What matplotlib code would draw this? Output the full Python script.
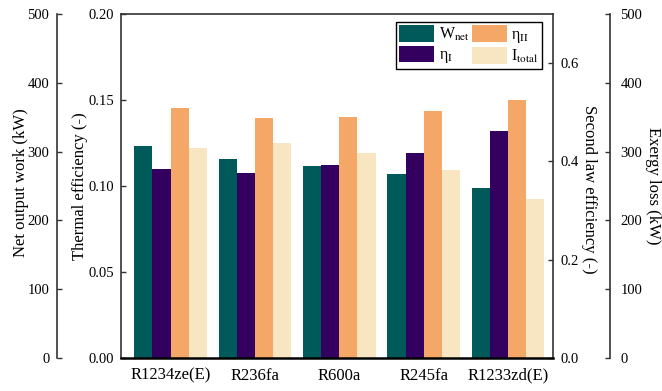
import matplotlib
matplotlib.use("Agg")
import matplotlib.pyplot as plt
import numpy as np

plt.rcParams['font.family'] = ['Liberation Serif', 'DejaVu Serif']
plt.rcParams['mathtext.fontset'] = 'stix'

fluids = ["R1234ze(E)", "R236fa", "R600a", "R245fa", "R1233zd(E)"]
w_net = [307.6, 289.7, 279.0, 268.0, 246.5]          # kW
eta_1 = [0.1101, 0.1077, 0.1122, 0.1192, 0.1322]     # thermal efficiency
eta_2 = [0.509, 0.4876, 0.491, 0.5026, 0.5256]       # second law efficiency
i_total = [305.0, 313.0, 298.4, 273.7, 230.5]        # kW

c_wnet = '#005a5a'
c_eta1 = '#33005f'
c_eta2 = '#f4a766'
c_itot = '#f8e6c3'

x = np.arange(len(fluids))
width = 0.215

fig = plt.figure(figsize=(6.62, 3.91), dpi=100)
ax = fig.add_axes([121 / 662, 1 - 358 / 391, 432 / 662, 344 / 391])
ax_eta2 = ax.twinx()
ax_w = ax.twinx()
ax_i = ax.twinx()

spine_c = '#333333'

## bars, one series per axis
b1 = ax_w.bar(x - 1.5 * width, w_net, width, color=c_wnet, linewidth=0)
b2 = ax.bar(x - 0.5 * width, eta_1, width, color=c_eta1, linewidth=0)
b3 = ax_eta2.bar(x + 0.5 * width, eta_2, width, color=c_eta2, linewidth=0)
b4 = ax_i.bar(x + 1.5 * width, i_total, width, color=c_itot, linewidth=0)

ax.set_xlim(-0.587, 4.533)
ax.set_ylim(0, 0.20)
ax.set_yticks([0, 0.05, 0.10, 0.15, 0.20])
ax.set_yticklabels(["0.00", "0.05", "0.10", "0.15", "0.20"])
ax.set_xticks(x)
ax.set_xticklabels(fluids, fontsize=12)
ax.tick_params(axis='x', length=0, pad=7)
ax.tick_params(axis='y', direction='in', length=3.5, width=1, labelsize=10.5, pad=5, color=spine_c)
ax.set_ylabel("Thermal efficiency (-)", fontsize=12, va='center', ha='center')
ax.yaxis.set_label_coords(-0.095, 0.5)
for s in ['right', 'top', 'bottom']:
    ax.spines[s].set_visible(False)
ax.spines['left'].set_color(spine_c)
ax.spines['left'].set_linewidth(1.2)

ax_eta2.set_ylim(0, 0.7)
ax_eta2.set_yticks([0, 0.2, 0.4, 0.6])
ax_eta2.set_yticklabels(["0.0", "0.2", "0.4", "0.6"])
ax_eta2.tick_params(axis='y', direction='in', length=3.5, width=1, labelsize=10.5, pad=5.5, color=spine_c)
ax_eta2.set_ylabel("Second law efficiency (-)", fontsize=12, rotation=270, va='center', ha='center')
ax_eta2.yaxis.set_label_coords(1.083, 0.49)

ax_w.set_ylim(0, 500)
ax_w.yaxis.set_ticks_position('left')
ax_w.yaxis.set_label_position('left')
ax_w.spines['left'].set_position(('axes', -0.148))
ax_w.tick_params(axis='y', direction='in', length=3.5, width=1, labelsize=10.5, pad=5.5, color=spine_c)
ax_w.set_ylabel("Net output work (kW)", fontsize=12, va='center', ha='center')
ax_w.yaxis.set_label_coords(-0.2315, 0.51)

ax_i.set_ylim(0, 500)
ax_i.spines['right'].set_position(('axes', 1.132))
ax_i.tick_params(axis='y', direction='in', length=3.5, width=1, labelsize=10.5, pad=7.5, color=spine_c)
ax_i.set_ylabel("Exergy loss (kW)", fontsize=12, rotation=270, va='center', ha='center')
ax_i.yaxis.set_label_coords(1.231, 0.5)

for a in [ax_eta2, ax_w, ax_i]:
    for s in ['top', 'bottom', 'left', 'right']:
        a.spines[s].set_visible(False)
    a.set_xlim(ax.get_xlim())
for a, s in [(ax_eta2, 'right'), (ax_w, 'left'), (ax_i, 'right'), (ax_i, 'top')]:
    a.spines[s].set_visible(True)
    a.spines[s].set_color(spine_c)
    a.spines[s].set_linewidth(1.2)
# frame bottom sits on top of all bars
ax_i.spines['bottom'].set_visible(True)
ax_i.spines['bottom'].set_color('black')
ax_i.spines['bottom'].set_linewidth(1.8)

leg = ax_i.legend([b1, b2, b3, b4],
                  [r'W$_\mathrm{net}$', r'η$_\mathrm{I}$', r'η$_\mathrm{II}$', r'I$_\mathrm{total}$'],
                  ncol=2, loc='upper right', bbox_to_anchor=(0.9745, 0.9767), borderaxespad=0,
                  fontsize=11.5, handlelength=2.2, handleheight=1.25, handletextpad=0.3,
                  columnspacing=0.1, labelspacing=0.15, borderpad=0.2,
                  fancybox=False, framealpha=1, edgecolor='black')
leg.get_frame().set_linewidth(1.0)

fig.savefig("out.png", dpi=100)
